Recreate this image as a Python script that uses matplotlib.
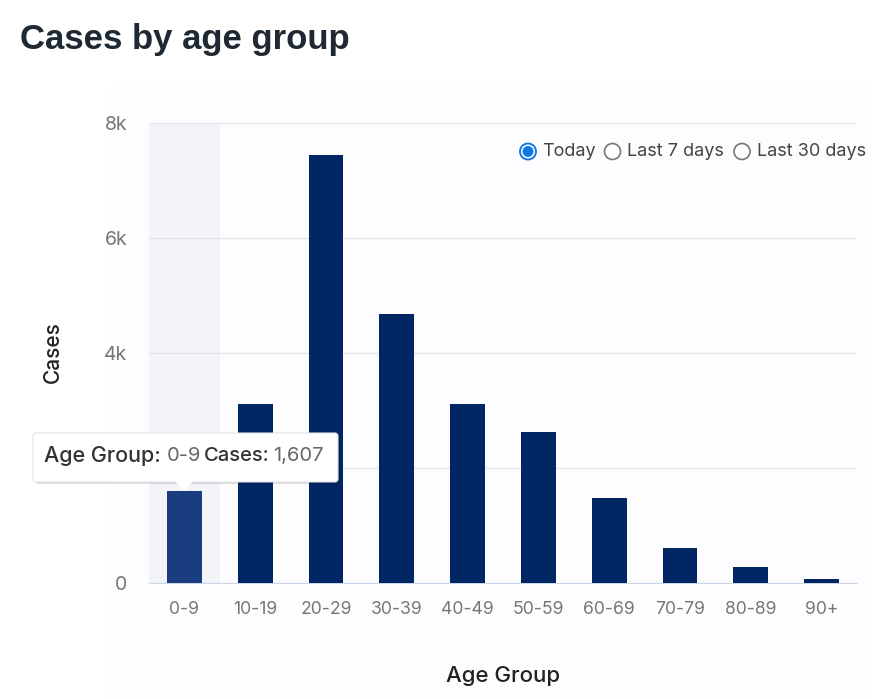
import matplotlib.pyplot as plt
from matplotlib.patches import Circle, FancyBboxPatch, Polygon, Rectangle

age_groups = ["0-9", "10-19", "20-29", "30-39", "40-49", "50-59", "60-69", "70-79", "80-89", "90+"]
cases = [1607, 3120, 7450, 4680, 3120, 2630, 1480, 610, 280, 70]
y_ticks = [0, 2000, 4000, 6000, 8000]
# 2k sits behind the tooltip in the reference
y_labels = ["0", "", "4k", "6k", "8k"]
radio_labels = ["Today", "Last 7 days", "Last 30 days"]

plt.rcParams["font.family"] = ["Inter", "DejaVu Sans"]

W, H = 880, 699
fig = plt.figure(figsize=(W / 100, H / 100), dpi=100, facecolor="white")

# overlay in pixel coordinates, for the page parts around the chart
page = fig.add_axes([0, 0, 1, 1], zorder=0)
page.set_xlim(0, W)
page.set_ylim(H, 0)
page.axis("off")
page.add_patch(Rectangle((110, 85), 760, 614, color="#fdfdff", lw=0))

# chart
ax = fig.add_axes([149 / W, 1 - 583 / H, 708 / W, 460 / H], zorder=1)
ax.patch.set_alpha(0)
ax.axvspan(-0.5, 0.5, color="#f2f4f9", lw=0, zorder=0)
colors = ["#1a3d7f"] + ["#002663"] * (len(cases) - 1)
ax.bar(range(len(cases)), cases, width=0.49, color=colors, zorder=3)
ax.set_xlim(-0.5, 9.5)
ax.set_ylim(0, 8000)
ax.set_yticks(y_ticks)
ax.set_yticklabels(y_labels)
ax.set_xticks(range(len(age_groups)))
ax.set_xticklabels(age_groups)
ax.grid(axis="y", color="#e6e6e6", lw=1, zorder=1)
ax.tick_params(axis="x", length=0, labelsize=12.7, labelcolor="#777777", pad=13)
ax.tick_params(axis="y", length=0, labelsize=14, labelcolor="#777777", pad=15.5)
for s in ["top", "right", "left"]:
    ax.spines[s].set_visible(False)
ax.spines["bottom"].set_color("#ccd6eb")
ax.set_xlabel("Age Group", fontsize=16, color="#222222", fontweight="medium")
ax.xaxis.set_label_coords((503 - 149) / 708, -(676 - 583) / 460, transform=ax.transAxes)
ax.xaxis.label.set_va("center")
ax.set_ylabel("Cases", fontsize=15, color="#222222", fontweight="medium")
ax.yaxis.set_label_coords((53 - 149) / 708, (583 - 352) / 460, transform=ax.transAxes)
ax.yaxis.label.set_va("center")

# top layer: title, radios, tooltip
top = fig.add_axes([0, 0, 1, 1], zorder=2)
top.set_xlim(0, W)
top.set_ylim(H, 0)
top.axis("off")
top.text(20, 39, "Cases by age group", fontsize=25, fontweight="bold", color="#1f2933",
         family=["Liberation Sans", "DejaVu Sans"], va="center", ha="left")

# radio buttons
top.add_patch(Circle((528, 151.5), 8, fc="white", ec="#0f7ae5", lw=1.4))
top.add_patch(Circle((528, 151.5), 5.5, fc="#0f7ae5", ec="none"))
top.add_patch(Circle((612.5, 151.5), 8, fc="white", ec="#767676", lw=1.2))
top.add_patch(Circle((742, 151.5), 8, fc="white", ec="#767676", lw=1.2))
for label, x in zip(radio_labels, [542, 627, 757]):
    top.text(x, 152, label, fontsize=13, color="#444444", va="center", ha="left")

# tooltip
top.add_patch(FancyBboxPatch((35, 436), 305, 48, boxstyle="round,pad=0,rounding_size=3",
                             fc="#000000", ec="none", alpha=0.13))
top.add_patch(FancyBboxPatch((33, 433), 305, 49, boxstyle="round,pad=0,rounding_size=3",
                             fc="white", ec="#e4e4e4", lw=0.8))
top.add_patch(Polygon([[175, 481], [184, 491], [193, 481]], fc="white", ec="none"))
top.text(44, 456, "Age Group:", fontsize=15.5, color="#333333", fontweight="medium", va="center")
top.text(167, 456, "0-9", fontsize=14.5, color="#666666", va="center")
top.text(204, 456, "Cases:", fontsize=14.5, color="#333333", fontweight="medium", va="center")
top.text(273, 456, "1,607", fontsize=14.5, color="#666666", va="center")

fig.savefig("out.png", dpi=100)
